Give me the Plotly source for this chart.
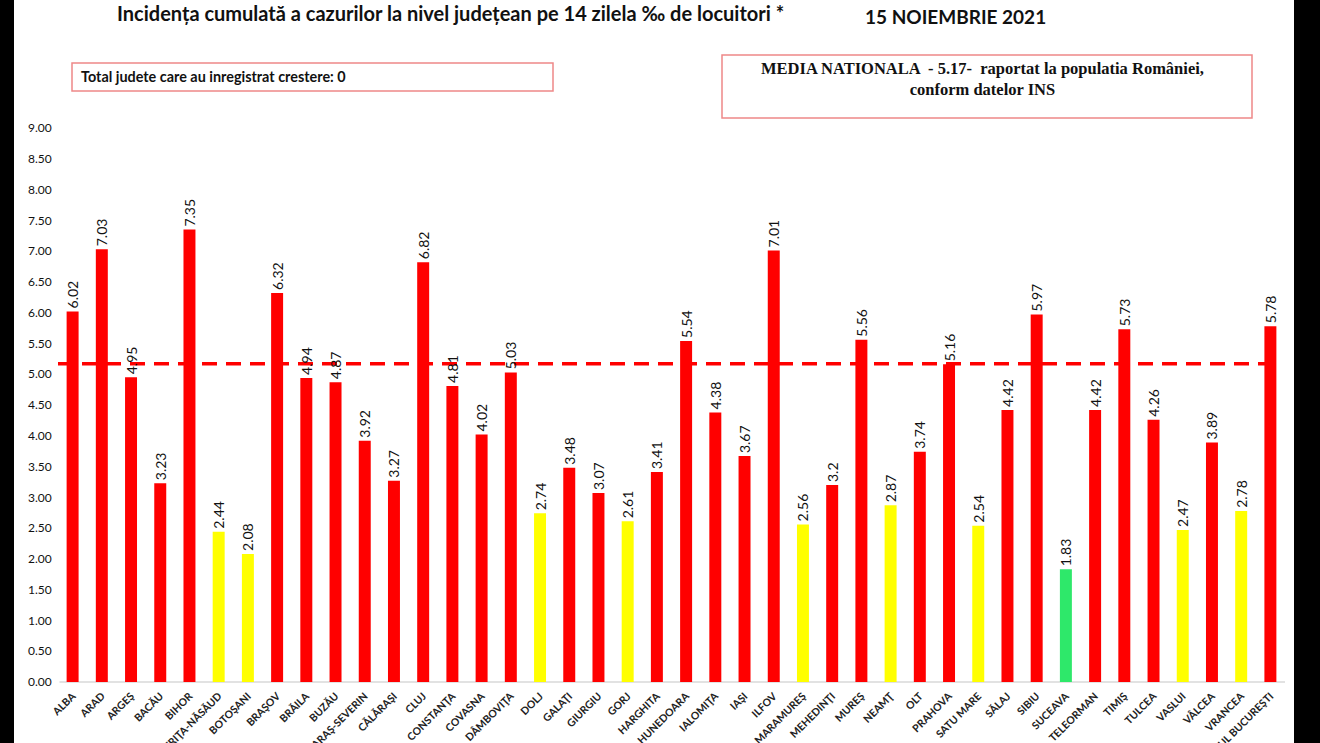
import plotly.graph_objects as go

counties = ["ALBA", "ARAD", "ARGEŞ", "BACĂU", "BIHOR", "BISTRIŢA-NĂSĂUD", "BOTOŞANI", "BRAŞOV",
            "BRĂILA", "BUZĂU", "CARAŞ-SEVERIN", "CĂLĂRAŞI", "CLUJ", "CONSTANŢA", "COVASNA",
            "DÂMBOVIŢA", "DOLJ", "GALAŢI", "GIURGIU", "GORJ", "HARGHITA", "HUNEDOARA", "IALOMIŢA",
            "IAŞI", "ILFOV", "MARAMUREŞ", "MEHEDINŢI", "MUREŞ", "NEAMŢ", "OLT", "PRAHOVA",
            "SATU MARE", "SĂLAJ", "SIBIU", "SUCEAVA", "TELEORMAN", "TIMIŞ", "TULCEA", "VASLUI",
            "VÂLCEA", "VRANCEA", "MUNICIPIUL BUCUREŞTI"]
incidence = [6.02, 7.03, 4.95, 3.23, 7.35, 2.44, 2.08, 6.32, 4.94, 4.87, 3.92, 3.27, 6.82, 4.81,
             4.02, 5.03, 2.74, 3.48, 3.07, 2.61, 3.41, 5.54, 4.38, 3.67, 7.01, 2.56, 3.2, 5.56,
             2.87, 3.74, 5.16, 2.54, 4.42, 5.97, 1.83, 4.42, 5.73, 4.26, 2.47, 3.89, 2.78, 5.78]
national_avg = 5.17
y_ticks = [i * 0.5 for i in range(19)]


def bar_color(v):
    if v < 2:
        return "#2EE86A"
    if v < 3:
        return "#FFFF00"
    return "#FF0000"


def fmt(v):
    s = "%.2f" % v
    return s[:-1] if s.endswith("0") else s


colors = [bar_color(v) for v in incidence]
labels = [fmt(v) for v in incidence]

W, H = 1320, 743
# white page spans x 14..1294 (black strips on both sides); plot area = white page
PL, PR = 14, 1294
pw = PR - PL
# axis geometry: first/last category centres and value scale
AX_L, AX_R = 58, 1285          # visible axis extent in pixels
Y0_PX, Y9_PX = 682, 128        # pixel rows of 0.00 and 9.00
cat_w = (AX_R - AX_L) / len(counties)
x_lo = -0.5 - (AX_L - PL) / cat_w
x_hi = len(counties) - 0.5 + (PR - AX_R) / cat_w
unit = (Y0_PX - Y9_PX) / 9.0
y_lo = -(H - Y0_PX) / unit
y_hi = 9 + Y9_PX / unit


def px(x):
    return (x - PL) / pw


def py(y):
    return (H - y) / H


fig = go.Figure()
fig.add_trace(go.Bar(
    x=counties, y=incidence, marker=dict(color=colors, line=dict(width=0)),
    text=labels, textposition="outside", textangle=-90,
    textfont=dict(family="Lato", size=14, color="#111111"),
    cliponaxis=False, constraintext="none", hoverinfo="x+y",
))

shapes = [
    dict(type="line", xref="x", yref="y", x0=-0.5, x1=len(counties) - 1, y0=national_avg,
         y1=national_avg, line=dict(color="#FF0000", width=3.5, dash="15px,9px"), layer="below"),
    dict(type="line", xref="x", yref="y", x0=-0.45, x1=len(counties) - 0.5, y0=0, y1=0,
         line=dict(color="#D9D9D9", width=1.5), layer="below"),
    dict(type="rect", xref="paper", yref="paper", x0=px(72), x1=px(553), y0=py(91), y1=py(63),
         line=dict(color="#EE8888", width=1.5), fillcolor="rgba(0,0,0,0)"),
    dict(type="rect", xref="paper", yref="paper", x0=px(722), x1=px(1252), y0=py(118), y1=py(55),
         line=dict(color="#EE8888", width=1.5), fillcolor="rgba(0,0,0,0)"),
]

annotations = [
    dict(text="<b>Incidența cumulată a cazurilor la nivel județean pe 14 zilela ‰ de locuitori *</b>",
         xref="paper", yref="paper", x=px(450), y=py(13), xanchor="center", yanchor="middle",
         showarrow=False, font=dict(family="Lato", size=20, color="#111111")),
    dict(text="<b>15 NOIEMBRIE 2021</b>", xref="paper", yref="paper", x=px(955), y=py(16),
         xanchor="center", yanchor="middle", showarrow=False,
         font=dict(family="Lato", size=19, color="#111111")),
    dict(text="<b>Total judete care au inregistrat crestere: 0</b>", xref="paper", yref="paper",
         x=px(79), y=py(77), xanchor="left", yanchor="middle", showarrow=False,
         font=dict(family="Lato", size=14.4, color="#111111")),
    dict(text="<b>MEDIA NATIONALA  - 5.17-  raportat la populatia României,<br>conform datelor INS</b>",
         xref="paper", yref="paper", x=px(982), y=py(79), xanchor="center", yanchor="middle",
         showarrow=False, align="center",
         font=dict(family="Liberation Serif", size=16.5, color="#111111")),
]

fig.update_layout(
    width=W, height=H, margin=dict(l=PL, r=W - PR, t=0, b=0, pad=0, autoexpand=False),
    paper_bgcolor="black", plot_bgcolor="white",
    showlegend=False, bargap=0.59,
    shapes=shapes, annotations=annotations,
    xaxis=dict(type="category", range=[x_lo, x_hi], tickangle=-45, showgrid=False,
               automargin=False, anchor="free", position=py(Y0_PX), ticklabelstandoff=5,
               showline=False, zeroline=False, ticks="",
               tickfont=dict(family="Lato", size=10.5, color="#222222"),
               tickprefix="<b>", ticksuffix="</b>"),
    yaxis=dict(range=[y_lo, y_hi], tickvals=y_ticks, tickformat=".2f", showgrid=False,
               automargin=False, ticklabelposition="inside", ticklabelstandoff=11,
               zeroline=False, showline=False, ticks="",
               tickprefix="<b>", ticksuffix="</b>",
               tickfont=dict(family="Lato", size=12, color="#111111")),
    font=dict(family="Lato"),
)

fig.write_html("out.html")
